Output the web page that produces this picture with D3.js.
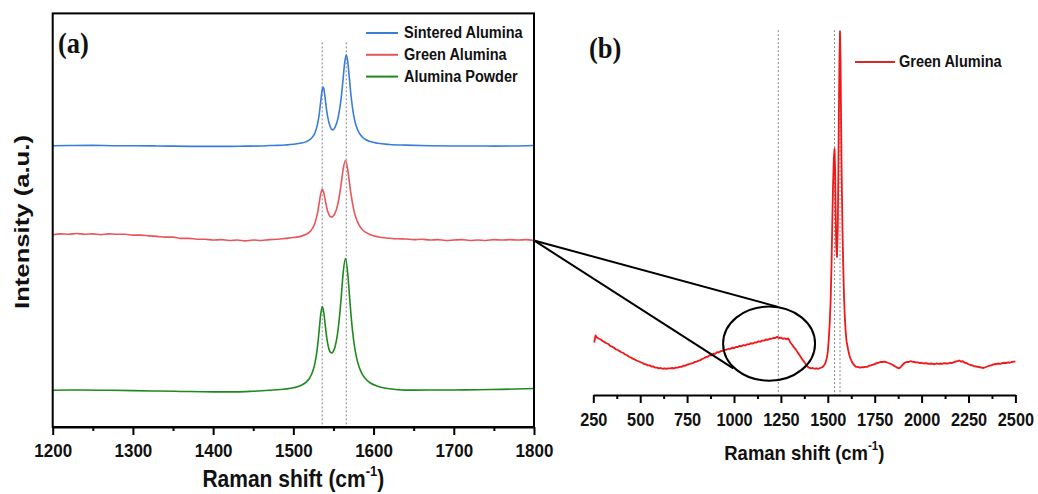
<!DOCTYPE html>
<html>
<head>
<meta charset="utf-8">
<script src="https://cdn.jsdelivr.net/npm/d3@7"></script>
<style>
  body { margin: 0; background: #fff; }
  svg { display: block; }
</style>
</head>
<body>
<svg id="fig" width="1038" height="494"></svg>
<script>
// ---- tick values ----
const ticksA = [1200, 1300, 1400, 1500, 1600, 1700, 1800];
const minorTicksA = [1250, 1350, 1450, 1550, 1650, 1750];
const ticksB = [250, 500, 750, 1000, 1250, 1500, 1750, 2000, 2250, 2500];
const minorTicksB = [375, 625, 875, 1125, 1375, 1625, 1875, 2125, 2375];

// ---- legend labels ----
const seriesNamesA = ["Sintered Alumina", "Green Alumina", "Alumina Powder"];
const seriesNameB = "Green Alumina";

// ---- spectra, [Raman shift (cm-1), stacked intensity (a.u.)] ----
const sinteredAlumina = [
  [1200,68.0],[1220,68.05],[1250,68.1],[1280,68.0],[1300,68.0],[1330,67.95],[1350,67.9],
  [1380,67.85],[1400,67.85],[1420,67.85],[1440,67.9],[1460,67.95],[1470,68.05],[1480,68.1],
  [1490,68.2],[1500,68.35],[1510,68.65],[1516,69.0],[1520,69.4],[1524,70.15],[1527,71.15],
  [1530,73.1],[1532,75.3],[1534,78.5],[1536,81.6],[1537,82.2],[1538,81.8],[1540,78.9],
  [1542,75.9],[1544,73.9],[1546,72.6],[1548,71.9],[1550,71.9],[1552,72.5],[1554,73.5],
  [1556,75.0],[1558,77.2],[1560,80.2],[1562,84.1],[1564,88.1],[1566,90.0],[1568,88.1],
  [1570,84.0],[1572,79.9],[1575,75.6],[1578,73.0],[1582,71.1],[1586,70.1],[1590,69.5],
  [1596,69.0],[1605,68.6],[1620,68.3],[1640,68.15],[1670,68.0],[1700,67.95],[1730,67.95],
  [1750,67.9],[1780,67.95],[1800,68.05]
];
const greenAlumina = [
  [1200,46.5],[1210,46.7],[1220,46.6],[1230,46.8],[1240,46.6],[1250,46.7],[1260,46.5],
  [1270,46.7],[1280,46.6],[1290,46.6],[1300,46.4],[1310,46.4],[1320,46.2],[1330,46.1],
  [1340,45.9],[1350,45.9],[1360,45.6],[1370,45.6],[1380,45.4],[1390,45.4],[1400,45.2],
  [1410,45.3],[1420,45.1],[1430,45.2],[1440,45.0],[1450,45.2],[1460,45.1],[1470,45.3],
  [1480,45.4],[1490,45.6],[1500,45.8],[1510,46.15],[1516,46.6],[1520,47.1],[1524,48.1],
  [1527,49.4],[1530,51.6],[1532,53.9],[1534,56.3],[1536,57.5],[1538,56.6],[1540,54.6],
  [1542,52.7],[1544,51.5],[1546,50.9],[1548,50.8],[1550,51.1],[1552,51.7],[1554,52.8],
  [1556,54.4],[1558,56.6],[1560,59.4],[1562,62.2],[1565,64.5],[1568,62.0],[1570,59.0],
  [1572,56.1],[1575,52.8],[1578,50.6],[1582,48.8],[1586,47.7],[1590,47.1],[1596,46.5],
  [1605,46.0],[1620,45.65],[1630,45.5],[1640,45.45],[1650,45.3],[1660,45.4],[1670,45.2],
  [1680,45.3],[1690,45.1],[1700,45.2],[1710,45.3],[1720,45.1],[1730,45.2],[1740,45.1],
  [1750,45.3],[1760,45.2],[1770,45.3],[1780,45.2],[1790,45.3],[1800,45.1]
];
const aluminaPowder = [
  [1200,8.9],[1230,8.95],[1260,8.9],[1300,8.8],[1330,8.7],[1360,8.6],[1400,8.5],[1430,8.5],
  [1450,8.65],[1470,8.87],[1490,9.17],[1500,9.47],[1510,10.09],[1516,10.84],[1520,11.73],
  [1524,13.33],[1527,15.49],[1530,19.26],[1532,22.99],[1534,27.02],[1536,29.13],[1538,27.61],
  [1540,24.16],[1542,21.10],[1544,19.11],[1546,18.10],[1548,17.89],[1550,18.32],[1552,19.41],
  [1554,21.23],[1556,23.91],[1558,27.59],[1560,32.19],[1562,37.01],[1565,40.70],[1568,36.69],
  [1570,31.67],[1572,26.82],[1575,21.20],[1578,17.50],[1582,14.51],[1586,12.75],[1590,11.65],
  [1596,10.64],[1605,9.86],[1620,9.25],[1640,8.92],[1670,8.95],[1700,8.95],[1730,9.0],
  [1760,9.1],[1800,9.3]
];
const greenAluminaFull = [
  [255,14.0],[262,15.9],[268,15.4],[280,15.0],[290,14.8],[300,14.4],[310,14.1],[320,13.8],
  [330,13.6],[340,13.1],[350,12.9],[360,12.6],[370,12.2],[380,12.0],[390,11.7],[400,11.4],
  [410,11.2],[420,10.8],[430,10.6],[440,10.2],[450,10.0],[460,9.7],[470,9.5],[480,9.2],
  [490,9.0],[500,8.8],[510,8.6],[520,8.3],[530,8.2],[540,7.9],[550,7.9],[560,7.6],[570,7.6],
  [580,7.3],[590,7.3],[600,7.1],[610,7.2],[620,7.0],[630,7.1],[640,7.0],[650,7.1],[660,7.1],
  [670,7.2],[680,7.1],[690,7.3],[700,7.3],[710,7.5],[720,7.5],[730,7.8],[740,7.8],[750,8.1],
  [760,8.2],[770,8.4],[780,8.5],[790,8.8],[800,8.9],[810,9.1],[820,9.3],[830,9.6],[840,9.8],
  [850,10.1],[860,10.2],[870,10.6],[880,10.6],[890,11.0],[900,11.0],[910,11.4],[920,11.4],
  [930,11.7],[940,11.8],[950,12.0],[960,12.1],[970,12.3],[980,12.3],[990,12.6],[1000,12.5],
  [1010,12.8],[1020,12.8],[1030,13.1],[1040,13.0],[1050,13.3],[1060,13.2],[1070,13.5],
  [1080,13.5],[1090,13.8],[1100,13.7],[1110,14.0],[1120,14.0],[1130,14.3],[1140,14.2],
  [1150,14.5],[1160,14.5],[1170,14.8],[1180,14.7],[1190,15.0],[1200,15.0],[1210,15.2],
  [1220,15.2],[1230,15.5],[1240,15.2],[1250,15.3],[1260,15.0],[1270,15.1],[1280,14.9],
  [1290,15.1],[1300,14.0],[1310,13.4],[1320,12.7],[1330,12.1],[1340,11.3],[1350,10.6],
  [1360,9.8],[1370,9.1],[1380,8.4],[1390,7.6],[1400,7.3],[1410,7.1],[1420,7.2],[1430,7.0],
  [1440,7.1],[1450,7.0],[1460,7.2],[1470,7.4],[1480,7.9],[1488,8.6],[1495,9.9],[1500,11.5],
  [1505,14.7],[1510,19],[1515,25],[1520,35],[1524,46],[1528,56],[1532,63],[1536,65.6],
  [1539,60],[1542,48],[1545,39.5],[1549,36.8],[1553,44],[1556,58],[1559,75],[1562,89],
  [1565,96.9],[1568,89],[1571,72],[1574,58],[1578,45],[1582,35],[1586,27],[1590,21.5],
  [1595,17],[1600,14.3],[1608,12.2],[1615,10.6],[1622,9.6],[1630,8.7],[1640,8.0],[1650,7.5],
  [1660,7.5],[1670,7.3],[1680,7.4],[1690,7.4],[1700,7.5],[1710,7.5],[1720,7.8],[1730,7.9],
  [1740,8.1],[1750,8.2],[1760,8.5],[1770,8.6],[1780,8.8],[1790,8.8],[1800,8.9],[1810,8.8],
  [1820,8.6],[1830,8.4],[1840,8.2],[1850,7.9],[1860,7.6],[1870,7.3],[1880,7.1],[1890,7.5],
  [1900,8.1],[1910,8.6],[1920,8.8],[1930,8.8],[1940,9.0],[1950,8.9],[1960,8.8],[1970,8.7],
  [1980,8.7],[1990,8.5],[2000,8.6],[2010,8.4],[2020,8.5],[2030,8.4],[2040,8.3],[2050,8.4],
  [2060,8.3],[2070,8.2],[2080,8.4],[2090,8.3],[2100,8.4],[2110,8.3],[2120,8.5],[2130,8.4],
  [2140,8.4],[2150,8.6],[2160,8.5],[2170,8.7],[2180,8.9],[2190,9.0],[2200,9.2],[2210,8.9],
  [2220,9.0],[2230,8.6],[2240,8.5],[2250,8.2],[2260,8.0],[2270,7.9],[2280,7.7],[2290,7.6],
  [2300,7.5],[2310,7.4],[2320,7.3],[2330,7.2],[2340,7.4],[2350,7.6],[2360,7.8],[2370,7.9],
  [2380,8.1],[2390,8.2],[2400,8.3],[2410,8.4],[2420,8.3],[2430,8.5],[2440,8.6],[2450,8.5],
  [2460,8.7],[2470,8.6],[2480,8.8],[2490,8.9],[2500,8.9]
];

// ---- guide lines at the band positions ----
const peakGuidesA = [1536, 1566];
const peakGuidesB = [1236, 1536, 1565];

// ---- magnified region: ellipse [centre shift, centre intensity, radius shift, radius intensity] ----
const zoomEllipse = [1187, 13.7, 245, 9.9];
const zoomTangents = [[1234.5, 23.5], [996, 7.1]];

// ---------------------------------------------------------------
const svg = d3.select("#fig");
svg.append("rect").attr("width", 1038).attr("height", 494).attr("fill", "#fff");

const SANS = "'Liberation Sans', Arial, sans-serif";
const SERIF = "'Liberation Serif', 'Times New Roman', serif";
const STRETCH = 1.13;   // the artwork's lettering is slightly tall

const colA = ["#3a7dd8", "#e8555b", "#1e8a1e"];
const colB = "#f01818";

// panel (a) scales
const xA = d3.scaleLinear().domain([1200, 1800]).range([52.7, 534]);
const yA = d3.scaleLinear().domain([0, 100]).range([427, 13.4]);
// panel (b) scales
const xB = d3.scaleLinear().domain([250, 2500]).range([593.3, 1015.4]);
const yB = d3.scaleLinear().domain([0, 100]).range([395, 20]);

function tallText(parent, x, y, str, size, opts = {}) {
  const t = parent.append("text")
    .attr("transform", `translate(${x},${y}) scale(1,${opts.k || STRETCH})`)
    .attr("font-family", opts.family || SANS)
    .attr("font-weight", "bold")
    .attr("font-size", size)
    .attr("fill", "#111")
    .attr("text-anchor", opts.anchor || "start");
  t.text(str);
  return t;
}

function styleAxis(ax, offset, size) {
  ax.select(".domain").attr("stroke-width", 2);
  ax.selectAll(".tick line").attr("stroke-width", 2);
  ax.selectAll(".tick text").attr("y", null).attr("dy", null)
    .attr("transform", `translate(0,${offset}) scale(1,${STRETCH})`)
    .attr("font-family", SANS).attr("font-weight", "bold")
    .attr("font-size", size).attr("fill", "#111");
}

// ---------- panel (a) ----------
const gA = svg.append("g");

gA.selectAll("line.guide").data(peakGuidesA).join("line")
  .attr("class", "guide")
  .attr("x1", d => xA(d)).attr("x2", d => xA(d))
  .attr("y1", yA(93)).attr("y2", yA(0))
  .attr("stroke", "#777").attr("stroke-width", 0.9).attr("stroke-dasharray", "2,2");

const lineA = d3.line().x(d => xA(d[0])).y(d => yA(d[1])).curve(d3.curveMonotoneX);
[sinteredAlumina, greenAlumina, aluminaPowder].forEach((s, i) => {
  gA.append("path").datum(s).attr("d", lineA)
    .attr("fill", "none").attr("stroke", colA[i]).attr("stroke-width", 1.6)
    .attr("stroke-linejoin", "round");
});

// frame
gA.append("rect")
  .attr("x", xA(1200)).attr("y", yA(100))
  .attr("width", xA(1800) - xA(1200)).attr("height", yA(0) - yA(100))
  .attr("fill", "none").attr("stroke", "#000").attr("stroke-width", 2);

// bottom axis (a)
const axA = gA.append("g").attr("transform", `translate(0,${yA(0)})`)
  .call(d3.axisBottom(xA).tickValues(ticksA).tickSize(8).tickSizeOuter(0).tickFormat(d3.format("d")));
styleAxis(axA, 30, 17);
const axAm = gA.append("g").attr("transform", `translate(0,${yA(0)})`)
  .call(d3.axisBottom(xA).tickValues(minorTicksA).tickSize(4).tickSizeOuter(0).tickFormat(""));
axAm.select(".domain").remove();
axAm.selectAll(".tick line").attr("stroke-width", 2);

// x title (a)
const tA = tallText(gA, (xA(1200) + xA(1800)) / 2, 486.5, "", 21, { anchor: "middle" });
tA.append("tspan").text("Raman shift (cm");
tA.append("tspan").attr("font-size", 13).attr("dy", -9).text("-1");
tA.append("tspan").attr("dy", 9).text(")");

// y title
svg.append("text")
  .attr("transform", "translate(29,222) rotate(-90)")
  .attr("text-anchor", "middle")
  .attr("font-family", SANS).attr("font-weight", "bold").attr("font-size", 21)
  .attr("textLength", 174).attr("lengthAdjust", "spacingAndGlyphs")
  .attr("fill", "#111")
  .text("Intensity (a.u.)");

// panel tag (a)
tallText(gA, 58, 52.5, "(a)", 26.5, { family: SERIF });

// legend (a)
seriesNamesA.forEach((name, i) => {
  const y = 33 + i * 21.8;
  gA.append("line").attr("x1", 366).attr("x2", 398).attr("y1", y).attr("y2", y)
    .attr("stroke", colA[i]).attr("stroke-width", 2);
  tallText(gA, 404, y + 5.3, name, 14.5);
});

// ---------- panel (b) ----------
const gB = svg.append("g");

gB.selectAll("line.guide").data(peakGuidesB).join("line")
  .attr("class", "guide")
  .attr("x1", d => xB(d)).attr("x2", d => xB(d))
  .attr("y1", yB(97.3)).attr("y2", yB(0))
  .attr("stroke", "#777").attr("stroke-width", 0.9).attr("stroke-dasharray", "2,2");

const lineB = d3.line().x(d => xB(d[0])).y(d => yB(d[1]));
gB.append("path").datum(greenAluminaFull).attr("d", lineB)
  .attr("fill", "none").attr("stroke", colB).attr("stroke-width", 1.8)
  .attr("stroke-linejoin", "round");

// bottom axis (b)
const axB = gB.append("g").attr("transform", `translate(0,${yB(0)})`)
  .call(d3.axisBottom(xB).tickValues(ticksB).tickSize(8).tickSizeOuter(0).tickFormat(d3.format("d")));
styleAxis(axB, 30.5, 16.3);
const axBm = gB.append("g").attr("transform", `translate(0,${yB(0)})`)
  .call(d3.axisBottom(xB).tickValues(minorTicksB).tickSize(4).tickSizeOuter(0).tickFormat(""));
axBm.select(".domain").remove();
axBm.selectAll(".tick line").attr("stroke-width", 2);

// x title (b)
const tB = tallText(gB, (xB(250) + xB(2500)) / 2, 459.5, "", 18.5, { anchor: "middle" });
tB.append("tspan").text("Raman shift (cm");
tB.append("tspan").attr("font-size", 11.5).attr("dy", -8).text("-1");
tB.append("tspan").attr("dy", 8).text(")");

// panel tag (b)
tallText(gB, 589, 57.5, "(b)", 26.5, { family: SERIF });

// legend (b)
gB.append("line").attr("x1", 855).attr("x2", 895).attr("y1", 62).attr("y2", 62)
  .attr("stroke", "#d92626").attr("stroke-width", 2);
tallText(gB, 899, 67.3, seriesNameB, 14.5);

// ---------- magnification callout ----------
const [ecx, ecy, erx, ery] = zoomEllipse;
svg.append("ellipse")
  .attr("cx", xB(ecx)).attr("cy", yB(ecy))
  .attr("rx", xB(ecx + erx) - xB(ecx)).attr("ry", yB(ecy) - yB(ecy + ery))
  .attr("fill", "none").attr("stroke", "#000").attr("stroke-width", 2);

const anchor = greenAlumina[greenAlumina.length - 1];
zoomTangents.forEach(p => {
  svg.append("line")
    .attr("x1", xA(anchor[0])).attr("y1", yA(anchor[1]))
    .attr("x2", xB(p[0])).attr("y2", yB(p[1]))
    .attr("stroke", "#000").attr("stroke-width", 2);
});
</script>
</body>
</html>
